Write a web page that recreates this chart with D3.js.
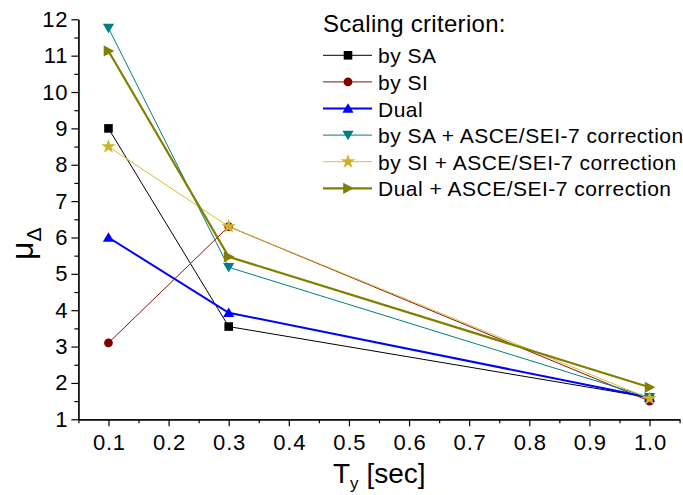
<!DOCTYPE html>
<html><head><meta charset="utf-8">
<script src="https://cdn.jsdelivr.net/npm/d3@7"></script>
<style>
html,body{margin:0;padding:0;background:#fff;}
svg{display:block;font-family:"Liberation Sans",Arial,sans-serif;}
</style></head>
<body>
<svg id="chart" width="683" height="495"></svg>
<script>
// ---- data ----
const periods = [0.1, 0.3, 1.0];
const bySA = [9.0, 3.55, 1.6];
const bySI = [3.1, 6.3, 1.5];
const dual = [6.0, 3.93, 1.6];
const bySA_ASCE = [11.76, 5.18, 1.6];
const bySI_ASCE = [8.5, 6.3, 1.57];
const dual_ASCE = [11.13, 5.47, 1.88];
const seriesNames = ["by SA", "by SI", "Dual", "by SA + ASCE/SEI-7 correction", "by SI + ASCE/SEI-7 correction", "Dual + ASCE/SEI-7 correction"];
const xTickLabels = [0.1, 0.2, 0.3, 0.4, 0.5, 0.6, 0.7, 0.8, 0.9, 1.0];
const yTickLabels = [1, 2, 3, 4, 5, 6, 7, 8, 9, 10, 11, 12];

const styles = [
  {line: "#000000", fill: "#000000", width: 1, sym: "square"},
  {line: "#8b1010", fill: "#800000", width: 1, sym: "circle"},
  {line: "#0000ff", fill: "#0000ff", width: 2, sym: "up"},
  {line: "#008080", fill: "#008080", width: 1, sym: "down"},
  {line: "#d4c03a", fill: "#cbb42a", width: 1, sym: "star"},
  {line: "#808000", fill: "#808000", width: 2.2, sym: "right"}
];
const allSeries = [bySA, bySI, dual, bySA_ASCE, bySI_ASCE, dual_ASCE];

const svg = d3.select("#chart");
const x = d3.scaleLinear().domain([0.05, 1.05]).range([78.4, 679.6]);
const y = d3.scaleLinear().domain([1, 12]).range([419.3, 19.3]);
const x0 = 78.4, y0 = 419.3;

function symPath(sym) {
  switch (sym) {
    case "square": return "M-4.3,-4.3H4.3V4.3H-4.3Z";
    case "circle": return d3.symbol(d3.symbolCircle, 60)();
    case "up": return "M0,-5.2L5.6,4.3L-5.6,4.3Z";
    case "down": return "M0,5.2L5.6,-4.3L-5.6,-4.3Z";
    case "right": return "M5.8,0L-4.8,5.6L-4.8,-5.6Z";
    case "star": return d3.symbol(d3.symbolStar, 66)();
  }
}

// axes
const yMajor = d3.axisLeft(y).tickValues(yTickLabels).tickSize(7).tickPadding(4).tickSizeOuter(0).tickFormat(d3.format("d"));
const yMinor = d3.axisLeft(y).tickValues(d3.range(1.5, 12, 1)).tickSize(4).tickFormat("").tickSizeOuter(0);
const xMajor = d3.axisBottom(x).tickValues(xTickLabels).tickSize(7).tickPadding(8).tickSizeOuter(0).tickFormat(d3.format(".1f"));
const xMinor = d3.axisBottom(x).tickValues([0.05,0.15,0.25,0.35,0.45,0.55,0.65,0.75,0.85,0.95,1.05]).tickSize(4).tickFormat("").tickSizeOuter(0);

function styleAxis(g, fs, ls, dx) {
  g.selectAll("path,line").attr("stroke", "#000").attr("stroke-width", 1.2);
  g.selectAll("text").attr("fill", "#000").style("font-size", fs + "px")
    .style("letter-spacing", ls + "px").attr("dx", dx)
    .style("font-family", '"Liberation Sans",Arial,sans-serif');
}
const gy = svg.append("g").attr("transform", `translate(${x0},0)`).call(yMajor); styleAxis(gy, 22, 0.8, 0.8);
const gy2 = svg.append("g").attr("transform", `translate(${x0},0)`).call(yMinor); styleAxis(gy2, 22, 0, 0);
const gx = svg.append("g").attr("transform", `translate(0,${y0})`).call(xMajor); styleAxis(gx, 22, 0.8, 0.4);
const gx2 = svg.append("g").attr("transform", `translate(0,${y0})`).call(xMinor); styleAxis(gx2, 22, 0, 0);

// series
const line = d3.line().x((d, i) => x(periods[i])).y(d => y(d));
allSeries.forEach((vals, si) => {
  const st = styles[si];
  const g = svg.append("g");
  g.append("path").attr("d", line(vals)).attr("fill", "none").attr("stroke", st.line).attr("stroke-width", st.width);
  g.selectAll("path.m").data(vals).enter().append("path").attr("class", "m")
    .attr("d", symPath(st.sym))
    .attr("transform", (d, i) => `translate(${x(periods[i])},${y(d)})`)
    .attr("fill", st.fill);
});

// legend
const lg = svg.append("g");
lg.append("text").attr("x", 323).attr("y", 31.5).style("font-size", "24px").style("letter-spacing", "0.3px").attr("fill", "#000").text("Scaling criterion:");
seriesNames.forEach((name, i) => {
  const st = styles[i];
  const cy = 55.3 + i * 26.6;
  lg.append("line").attr("x1", 323).attr("x2", 372).attr("y1", cy).attr("y2", cy).attr("stroke", st.line).attr("stroke-width", st.width);
  lg.append("path").attr("d", symPath(st.sym)).attr("transform", `translate(348,${cy})`).attr("fill", st.fill);
  lg.append("text").attr("x", 378).attr("y", cy + 8).style("font-size", "21px").style("letter-spacing", "0.5px").attr("fill", "#000").text(name);
});

// axis titles
const xt = svg.append("text").attr("x", 333).attr("y", 483).style("font-size", "28px").attr("fill", "#000");
xt.append("tspan").text("T");
xt.append("tspan").attr("dy", 6).style("font-size", "17px").text("y");
xt.append("tspan").attr("dy", -6).text(" [sec]");

const yt = svg.append("text").attr("transform", "translate(33,260) rotate(-90)").style("font-size", "32px").attr("fill", "#000");
yt.append("tspan").text("μ");
yt.append("tspan").attr("dy", 8).style("font-size", "21px").text("Δ");
</script>
</body></html>
